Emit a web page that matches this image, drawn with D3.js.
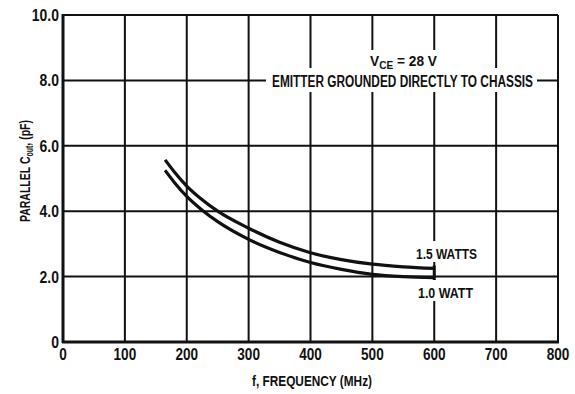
<!DOCTYPE html>
<html>
<head>
<meta charset="utf-8">
<script src="https://cdn.jsdelivr.net/npm/d3@7"></script>
<style>
  body { margin: 0; background: white; }
  text { font-family: "Liberation Sans", Arial, sans-serif; font-weight: bold; fill: #111; }
</style>
</head>
<body>
<div id="graphContainer"></div>
<script>
// values
const xTicks = [0, 100, 200, 300, 400, 500, 600, 700, 800];
const yTicks = [0, 2, 4, 6, 8, 10];
const yTickLabels = ['0', '2.0', '4.0', '6.0', '8.0', '10.0'];

const freq15 = [165, 180, 200, 225, 250, 300, 350, 400, 450, 500, 550, 600];
const cout15 = [5.57, 5.2, 4.77, 4.35, 4.0, 3.48, 3.05, 2.73, 2.52, 2.38, 2.3, 2.25];

const freq10 = [165, 180, 200, 225, 250, 300, 350, 400, 450, 500, 550, 600];
const cout10 = [5.25, 4.88, 4.45, 4.03, 3.68, 3.14, 2.74, 2.43, 2.22, 2.07, 2.0, 1.97];

drawGraph();

// squeeze text horizontally, the original lettering is a condensed face
function condense(sel, k) {
    sel.each(function () {
        const w = this.getComputedTextLength();
        d3.select(this).attr('textLength', w * k).attr('lengthAdjust', 'spacingAndGlyphs');
    });
}

function fitWidth(sel, w) {
    sel.attr('textLength', w).attr('lengthAdjust', 'spacingAndGlyphs');
}

function drawGraph() {
    const width = 575;
    const height = 394;
    const margin = { left: 63, right: 17, top: 15, bottom: 52 };

    const svg = d3.select('#graphContainer')
        .append('svg')
        .attr('width', width)
        .attr('height', height)
        .style('background', 'white');

    const x = d3.scaleLinear().domain([0, 800]).range([margin.left, width - margin.right]);
    const y = d3.scaleLinear().domain([0, 10]).range([height - margin.bottom, margin.top]);

    // grid
    const grid = svg.append('g').attr('stroke', '#111').attr('stroke-width', 2);
    grid.selectAll('line.v')
        .data(xTicks.slice(1))
        .enter()
        .append('line')
        .attr('x1', d => x(d)).attr('x2', d => x(d))
        .attr('y1', y(0)).attr('y2', y(10));
    grid.selectAll('line.h')
        .data(yTicks.slice(1))
        .enter()
        .append('line')
        .attr('x1', x(0)).attr('x2', x(800))
        .attr('y1', d => y(d)).attr('y2', d => y(d));

    // axes (thicker)
    svg.append('line').attr('x1', x(0)).attr('x2', x(0)).attr('y1', y(0) + 1).attr('y2', y(10) - 1)
        .attr('stroke', '#111').attr('stroke-width', 3);
    svg.append('line').attr('x1', x(0) - 1).attr('x2', x(800) + 1).attr('y1', y(0)).attr('y2', y(0))
        .attr('stroke', '#111').attr('stroke-width', 3);

    // tick labels
    svg.append('g').selectAll('text')
        .data(yTicks)
        .enter()
        .append('text')
        .attr('x', x(0) - 4)
        .attr('y', d => y(d) + 6)
        .attr('text-anchor', 'end')
        .style('font-size', '17px')
        .text((d, i) => yTickLabels[i])
        .call(condense, 0.82);

    svg.append('g').selectAll('text')
        .data(xTicks)
        .enter()
        .append('text')
        .attr('x', d => x(d))
        .attr('y', y(0) + 18)
        .attr('text-anchor', 'middle')
        .style('font-size', '17px')
        .text(d => d)
        .call(condense, 0.8);

    // axis titles
    svg.append('text')
        .attr('x', 312)
        .attr('y', 386)
        .attr('text-anchor', 'middle')
        .style('font-size', '15px')
        .text('f, FREQUENCY (MHz)')
        .call(fitWidth, 120);

    const yt = svg.append('text')
        .attr('transform', 'translate(30,' + 171 + ') rotate(-90)')
        .attr('text-anchor', 'middle')
        .style('font-size', '15px');
    yt.append('tspan').text('PARALLEL C');
    yt.append('tspan').attr('dy', 3).style('font-size', '10px').text('out');
    yt.append('tspan').attr('dy', -3).text(', (pF)');
    yt.call(fitWidth, 102);

    // curves
    const line = d3.line()
        .x(d => x(d[0]))
        .y(d => y(d[1]))
        .curve(d3.curveMonotoneX);

    const curves = [
        d3.zip(freq15, cout15),
        d3.zip(freq10, cout10)
    ];
    svg.append('g').selectAll('path')
        .data(curves)
        .enter()
        .append('path')
        .attr('d', line)
        .attr('fill', 'none')
        .attr('stroke', '#111')
        .attr('stroke-width', 3.2);

    // end bar at 600 MHz
    svg.append('line')
        .attr('x1', x(600)).attr('x2', x(600))
        .attr('y1', y(cout15[cout15.length - 1]) - 3)
        .attr('y2', y(cout10[cout10.length - 1]) + 3)
        .attr('stroke', '#111').attr('stroke-width', 3);

    // curve labels with white backing
    const labels = [
        { t: '1.5 WATTS', base: 259, cx: 446.5, w: 61 },
        { t: '1.0 WATT', base: 298, cx: 445.5, w: 55 }
    ];
    const lg = svg.append('g').selectAll('g')
        .data(labels)
        .enter()
        .append('g');
    lg.append('rect')
        .attr('x', d => d.cx - d.w / 2 - 3)
        .attr('y', d => d.base - 18)
        .attr('width', d => d.w + 6)
        .attr('height', 21)
        .attr('fill', 'white');
    lg.append('text')
        .attr('x', d => d.cx)
        .attr('y', d => d.base)
        .attr('text-anchor', 'middle')
        .style('font-size', '15px')
        .text(d => d.t)
        .each(function (d) { d3.select(this).call(fitWidth, d.w); });

    // condition note
    svg.append('rect').attr('x', 365).attr('y', 50).attr('width', 80).attr('height', 22)
        .attr('fill', 'white');
    svg.append('rect').attr('x', 266).attr('y', 68).attr('width', 271).attr('height', 24)
        .attr('fill', 'white');

    const vce = svg.append('text')
        .attr('x', 403.5)
        .attr('y', 66)
        .attr('text-anchor', 'middle')
        .style('font-size', '15px');
    vce.append('tspan').text('V');
    vce.append('tspan').attr('dy', 3).style('font-size', '11px').text('CE');
    vce.append('tspan').attr('dy', -3).text(' = 28 V');
    vce.call(fitWidth, 67);

    svg.append('text')
        .attr('x', 402.5)
        .attr('y', 86.5)
        .attr('text-anchor', 'middle')
        .style('font-size', '16px')
        .text('EMITTER GROUNDED DIRECTLY TO CHASSIS')
        .call(fitWidth, 261);
}
</script>
</body>
</html>
